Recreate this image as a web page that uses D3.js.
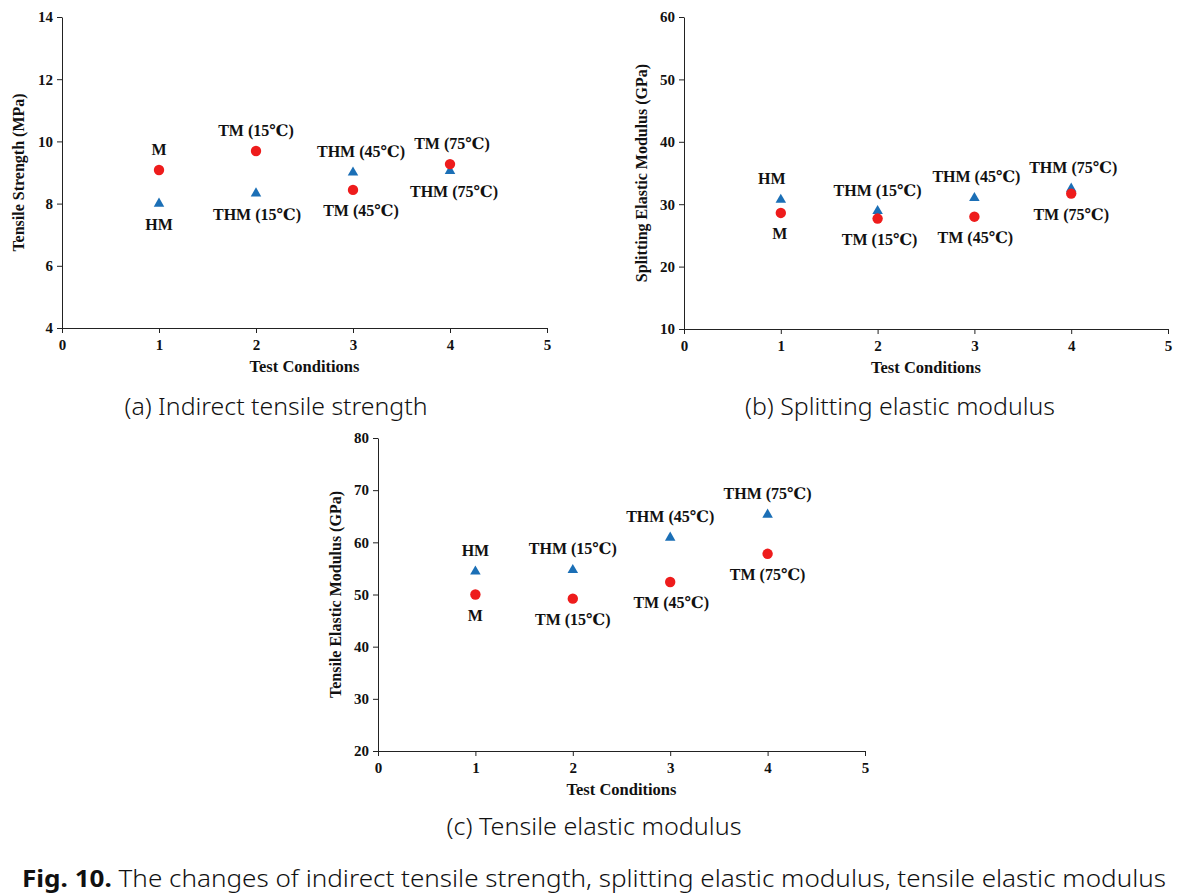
<!DOCTYPE html>
<html><head><meta charset="utf-8">
<script src="https://cdn.jsdelivr.net/npm/d3@7"></script>
<style>
body{margin:0;background:#fff;}
svg{display:block;}
</style></head>
<body>
<svg id="chart" width="1193" height="896"></svg>
<script>
// ---------- data ----------
const conditions = [1, 2, 3, 4];
const tmLabels  = ["M", "TM (15℃)", "TM (45℃)", "TM (75℃)"];
const thmLabels = ["HM", "THM (15℃)", "THM (45℃)", "THM (75℃)"];
// (a) Indirect tensile strength (MPa)
const tensileStrengthTM  = [9.08, 9.69, 8.44, 9.27];
const tensileStrengthTHM = [8.00, 8.33, 9.00, 9.05];
// (b) Splitting elastic modulus (GPa)
const splittingModulusTM  = [28.6, 27.7, 28.0, 31.7];
const splittingModulusTHM = [30.7, 28.9, 31.0, 32.5];
// (c) Tensile elastic modulus (GPa)
const tensileModulusTM  = [50.0, 49.2, 52.4, 57.8];
const tensileModulusTHM = [54.4, 54.7, 60.9, 65.3];

const xTicks = [0, 1, 2, 3, 4, 5];
const yTicksA = [4, 6, 8, 10, 12, 14];
const yTicksB = [10, 20, 30, 40, 50, 60];
const yTicksC = [20, 30, 40, 50, 60, 70, 80];

// ---------- layout ----------
const svg = d3.select("#chart");
const serif = "'Liberation Serif', 'DejaVu Serif', serif";
const sans = "'Noto Sans', 'Open Sans', sans-serif";
const redC = "#ee1c1c", blueC = "#1b6fb6";

const panels = [
  {box:{l:62, r:547, t:17, b:328}, yDomain:[4,14], yTicks:yTicksA, ytitle:"Tensile Strength (MPa)", ytx:18,
   tm:tensileStrengthTM, thm:tensileStrengthTHM,
   tmSide:[-1,-1,1,-1], thmSide:[1,1,-1,1], tmDx:[0,0,8,2], thmDx:[0,1,8,4]},
  {box:{l:684, r:1168, t:17, b:329}, yDomain:[10,60], yTicks:yTicksB, ytitle:"Splitting Elastic Modulus (GPa)", ytx:641,
   tm:splittingModulusTM, thm:splittingModulusTHM,
   tmSide:[1,1,1,1], thmSide:[-1,-1,-1,-1], tmDx:[-1,2,1,0], thmDx:[-9,0,2,2]},
  {box:{l:378, r:865, t:438, b:751}, yDomain:[20,80], yTicks:yTicksC, ytitle:"Tensile Elastic Modulus (GPa)", ytx:335,
   tm:tensileModulusTM, thm:tensileModulusTHM,
   tmSide:[1,1,1,1], thmSide:[-1,-1,-1,-1], tmDx:[0,0,1,0], thmDx:[0,0,0,0]}
];

panels.forEach(p => {
  const {l, r, t, b} = p.box;
  const x = d3.scaleLinear().domain([0,5]).range([l, r]);
  const y = d3.scaleLinear().domain(p.yDomain).range([b, t]);
  const g = svg.append("g");

  const xAxis = g.append("g").attr("transform", `translate(0,${b})`)
    .call(d3.axisBottom(x).tickValues(xTicks).tickSize(5).tickSizeOuter(0).tickFormat(d3.format("d")));
  const yAxis = g.append("g").attr("transform", `translate(${l},0)`)
    .call(d3.axisLeft(y).tickValues(p.yTicks).tickSize(5).tickSizeOuter(0).tickFormat(d3.format("d")));
  [xAxis, yAxis].forEach(a => {
    a.selectAll("path, line").attr("stroke", "#222").attr("stroke-width", 1);
    a.selectAll("text").attr("font-family", serif).attr("font-size", 15).attr("font-weight", "bold").attr("fill", "#111");
  });
  xAxis.selectAll("text").attr("dy", "0.95em");
  yAxis.selectAll("text").attr("dx", "-1px");

  g.append("text").attr("x", (l + r) / 2).attr("y", b + 44)
    .attr("text-anchor", "middle").attr("font-family", serif).attr("font-size", 16.5).attr("font-weight", "bold")
    .attr("fill", "#111").text("Test Conditions");
  g.append("text").attr("transform", `translate(${p.ytx},${(t + b) / 2}) rotate(-90)`)
    .attr("text-anchor", "middle").attr("dominant-baseline", "central")
    .attr("font-family", serif).attr("font-size", 16).attr("font-weight", "bold")
    .attr("fill", "#111").text(p.ytitle);

  // markers
  g.selectAll(".tri").data(conditions).join("path")
    .attr("d", d3.symbol(d3.symbolTriangle, 48))
    .attr("transform", (d, i) => `translate(${x(d)},${y(p.thm[i])})`)
    .attr("fill", blueC);
  g.selectAll(".dot").data(conditions).join("circle")
    .attr("cx", d => x(d)).attr("cy", (d, i) => y(p.tm[i])).attr("r", 5.2)
    .attr("fill", redC);

  // labels
  const lab = (vals, names, side, dx) => {
    g.selectAll(null).data(conditions).join("text")
      .attr("x", (d, i) => x(d) + dx[i])
      .attr("y", (d, i) => y(vals[i]) + 21 * side[i])
      .attr("text-anchor", "middle").attr("dominant-baseline", "central")
      .attr("font-family", serif).attr("font-size", 16).attr("font-weight", "bold").attr("fill", "#111")
      .text((d, i) => names[i]);
  };
  lab(p.tm, tmLabels, p.tmSide, p.tmDx);
  lab(p.thm, thmLabels, p.thmSide, p.thmDx);
});

// captions
const cap = (txt, cx, cy, w) => svg.append("text").attr("x", cx).attr("y", cy)
  .attr("text-anchor", "middle").attr("dominant-baseline", "central")
  .attr("font-family", sans).attr("font-size", 23).attr("font-weight", 300).attr("fill", "#111")
  .attr("textLength", w).attr("lengthAdjust", "spacingAndGlyphs").text(txt);
cap("(a) Indirect tensile strength", 276, 406, 303);
cap("(b) Splitting elastic modulus", 900, 406, 310);
cap("(c) Tensile elastic modulus", 594, 826, 295);

const fig = svg.append("text").attr("x", 594).attr("y", 878)
  .attr("text-anchor", "middle").attr("dominant-baseline", "central")
  .attr("font-family", sans).attr("font-size", 23).attr("fill", "#111")
  .attr("textLength", 1144).attr("lengthAdjust", "spacingAndGlyphs");
fig.append("tspan").attr("font-weight", "bold").text("Fig. 10.");
fig.append("tspan").attr("font-weight", 300).text(" The changes of indirect tensile strength, splitting elastic modulus, tensile elastic modulus");
</script>
</body></html>
